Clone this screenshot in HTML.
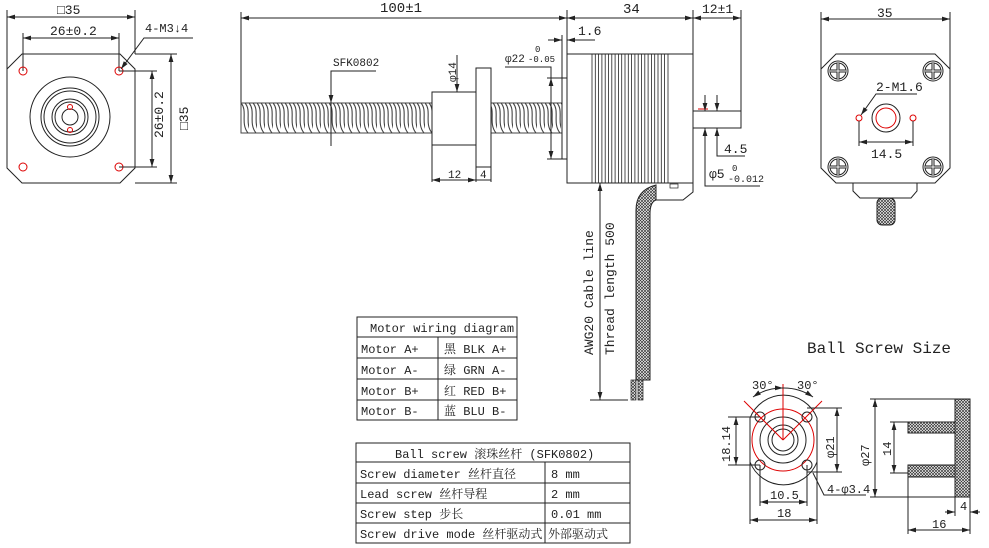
<!DOCTYPE html>
<html><head><meta charset="utf-8"><style>
html,body{margin:0;padding:0;background:#fff;}
svg{display:block;}
text{font-family:"Liberation Mono","Noto Serif CJK SC",monospace;fill:#222;}
</style></head><body>
<svg width="989" height="548" viewBox="0 0 989 548" xmlns="http://www.w3.org/2000/svg" font-size="12">
<defs>
<pattern id="h" width="3" height="3" patternUnits="userSpaceOnUse"><rect width="3" height="3" fill="#fff"/><path d="M0,0L3,3M3,0L0,3" stroke="#333" stroke-width="0.7"/></pattern>
<pattern id="thr" width="8" height="30" patternUnits="userSpaceOnUse" x="241" y="103"><rect width="8" height="30" fill="#fff"/><path d="M0,0 C7,8 -1,20 7,30 M4,0 C11,8 3,20 11,30" stroke="#444" fill="none" stroke-width="1.1"/></pattern>
<marker id="a" viewBox="0 0 10 6" refX="10" refY="3" markerWidth="8" markerHeight="5" orient="auto-start-reverse"><path d="M0,0L10,3L0,6z" fill="#222"/></marker>
</defs>
<g stroke="#222" stroke-width="1" fill="none">
<path d="M7,69 L22,54 L120,54 L135,69 L135,168 L120,183 L22,183 L7,168 Z"/>
<line x1="7" y1="10" x2="7" y2="69"/><line x1="135" y1="10" x2="135" y2="54"/>
<line x1="7" y1="17" x2="135" y2="17" marker-start="url(#a)" marker-end="url(#a)"/>
<line x1="23" y1="33" x2="23" y2="71"/><line x1="119" y1="33" x2="119" y2="71"/>
<line x1="23" y1="38" x2="119" y2="38" marker-start="url(#a)" marker-end="url(#a)"/>
<circle cx="70" cy="117" r="40"/><circle cx="70" cy="117" r="29"/><circle cx="70" cy="117" r="26"/><circle cx="70" cy="117" r="18"/><circle cx="70" cy="117" r="15"/><circle cx="70" cy="117" r="8"/>
<g stroke="#d00"><circle cx="23" cy="71" r="4"/><circle cx="119" cy="71" r="4"/><circle cx="23" cy="167" r="4"/><circle cx="119" cy="167" r="4"/><circle cx="70" cy="107" r="2.5"/><circle cx="70" cy="130" r="2.5"/></g>
<line x1="119" y1="71" x2="157" y2="71"/><line x1="119" y1="167" x2="157" y2="167"/>
<line x1="152" y1="71" x2="152" y2="167" marker-start="url(#a)" marker-end="url(#a)"/>
<line x1="135" y1="54" x2="177" y2="54"/><line x1="135" y1="183" x2="177" y2="183"/>
<line x1="171" y1="54" x2="171" y2="183" marker-start="url(#a)" marker-end="url(#a)"/>
<polyline points="193,38 144,38 121,69" marker-end="url(#a)"/>
<line x1="241" y1="12" x2="241" y2="103"/>
<line x1="241" y1="18" x2="567" y2="18" marker-start="url(#a)" marker-end="url(#a)"/>
<line x1="567" y1="10" x2="567" y2="54"/><line x1="693" y1="10" x2="693" y2="111"/><line x1="741" y1="10" x2="741" y2="111"/>
<line x1="567" y1="18" x2="693" y2="18" marker-start="url(#a)" marker-end="url(#a)"/>
<line x1="693" y1="18" x2="741" y2="18" marker-start="url(#a)" marker-end="url(#a)"/>
<rect x="241" y="103" width="191" height="30" fill="url(#thr)" stroke="#444"/>
<rect x="491" y="103" width="71" height="30" fill="url(#thr)" stroke="#444"/>
<rect x="432" y="92" width="44" height="53" fill="#fff"/>
<line x1="432" y1="145" x2="432" y2="182"/><line x1="476" y1="145" x2="476" y2="182"/>
<rect x="476" y="68" width="15" height="99" fill="#fff"/><line x1="491" y1="167" x2="491" y2="182"/>
<line x1="432" y1="180" x2="476" y2="180" marker-start="url(#a)" marker-end="url(#a)"/>
<line x1="476" y1="180" x2="491" y2="180"/>
<line x1="457" y1="55" x2="457" y2="92" marker-end="url(#a)"/>
<polyline points="376,71 331,71 331,146"/>
<line x1="331" y1="90" x2="331" y2="103" marker-end="url(#a)"/>
<polyline points="505,67 551,67 551,159"/>
<line x1="551" y1="78" x2="551" y2="159" marker-start="url(#a)" marker-end="url(#a)"/>
<line x1="547" y1="78" x2="567" y2="78"/><line x1="547" y1="159" x2="567" y2="159"/>
<line x1="562" y1="35" x2="562" y2="159"/>
<line x1="548" y1="40" x2="562" y2="40" marker-end="url(#a)"/><line x1="595" y1="40" x2="567" y2="40" marker-end="url(#a)"/>
<rect x="567" y="54" width="126" height="129"/>
<g stroke-width="0.8">
<path d="M592,54V183M595.3,54V183M598.6,54V183M601.9,54V183M605.2,54V183M608.5,54V183M611.8,54V183M615.1,54V183M618.4,54V183M621.7,54V183M625,54V183M628.3,54V183M631.6,54V183M634.9,54V183M638.2,54V183M641.5,54V183M644.8,54V183M648.1,54V183M651.4,54V183M654.7,54V183M658,54V183M661.3,54V183M664.6,54V183M668,54V183"/>
</g>
<rect x="693" y="111" width="48" height="17"/>
<line x1="698" y1="109" x2="708" y2="109" stroke="#d00"/>
<line x1="705" y1="95" x2="705" y2="111" marker-end="url(#a)"/><line x1="705" y1="145" x2="705" y2="128" marker-end="url(#a)"/>
<line x1="717" y1="95" x2="717" y2="111" marker-end="url(#a)"/><line x1="717" y1="145" x2="717" y2="128" marker-end="url(#a)"/>
<polyline points="705,128 705,186 760,186"/><polyline points="717,128 717,156 745,156"/>
<path d="M655,183 L693,183 L693,192 L683,200 L655,200"/>
<rect x="670" y="184" width="8" height="4" stroke-width="0.7"/>
<path d="M636,380 L636,210 Q636,190 656,185 L656,200 Q650,202 650,214 L650,380 Z" fill="url(#h)"/>
<rect x="631" y="380" width="5" height="20" fill="url(#h)" stroke-width="0.7"/>
<rect x="638" y="380" width="5" height="20" fill="url(#h)" stroke-width="0.7"/>
<line x1="600" y1="183" x2="600" y2="400" marker-start="url(#a)" marker-end="url(#a)"/>
<line x1="590" y1="400" x2="628" y2="400"/>
<path d="M821,69 L836,54 L935,54 L950,69 L950,168 L935,183 L836,183 L821,168 Z"/>
<line x1="821" y1="12" x2="821" y2="69"/><line x1="950" y1="12" x2="950" y2="69"/>
<line x1="821" y1="19" x2="950" y2="19" marker-start="url(#a)" marker-end="url(#a)"/>
<g>
<circle cx="838" cy="71" r="10"/><circle cx="838" cy="71" r="8"/><path d="M838,63V79M830,71H846" stroke-width="3"/><path d="M838,63V79M830,71H846" stroke="#fff" stroke-width="1"/>
<circle cx="933" cy="71" r="10"/><circle cx="933" cy="71" r="8"/><path d="M933,63V79M925,71H941" stroke-width="3"/><path d="M933,63V79M925,71H941" stroke="#fff" stroke-width="1"/>
<circle cx="838" cy="167" r="10"/><circle cx="838" cy="167" r="8"/><path d="M838,159V175M830,167H846" stroke-width="3"/><path d="M838,159V175M830,167H846" stroke="#fff" stroke-width="1"/>
<circle cx="933" cy="167" r="10"/><circle cx="933" cy="167" r="8"/><path d="M933,159V175M925,167H941" stroke-width="3"/><path d="M933,159V175M925,167H941" stroke="#fff" stroke-width="1"/>
</g>
<circle cx="886" cy="118" r="14"/><circle cx="886" cy="118" r="10" stroke="#d00"/>
<circle cx="859" cy="118" r="3" stroke="#d00"/><circle cx="913" cy="118" r="3" stroke="#d00"/>
<polyline points="917,94 876,94 861,115" marker-end="url(#a)"/>
<line x1="859" y1="121" x2="859" y2="146"/><line x1="913" y1="121" x2="913" y2="146"/>
<line x1="859" y1="142" x2="913" y2="142" marker-start="url(#a)" marker-end="url(#a)"/>
<path d="M853,183 L853,191 L860,198 L911,198 L917,191 L917,183"/>
<rect x="877" y="198" width="18" height="27" rx="5" fill="url(#h)"/>
<rect x="357" y="317" width="160" height="103"/>
<path d="M357,337H517M357,358H517M357,379H517M357,400H517M438,337V420"/>
<rect x="356" y="443" width="274" height="100"/>
<path d="M356,462H630M356,483H630M356,503H630M356,523H630M545,462V543"/>
<path d="M750,418 A36,36 0 0 1 817,418 L817,462 A36,36 0 0 1 750,462 Z"/>
<circle cx="783" cy="440" r="31" stroke="#d00"/>
<circle cx="783" cy="440" r="23"/><circle cx="783" cy="440" r="15"/><circle cx="783" cy="440" r="11"/>
<circle cx="760" cy="417" r="5"/><circle cx="807" cy="417" r="5"/><circle cx="760" cy="465" r="5"/><circle cx="807" cy="465" r="5"/>
<g stroke="#d00"><line x1="783" y1="384" x2="783" y2="440"/><line x1="783" y1="440" x2="744" y2="401"/><line x1="783" y1="440" x2="822" y2="401"/></g>
<path d="M753,397 A52,52 0 0 1 783,388" marker-start="url(#a)" marker-end="url(#a)"/>
<path d="M783,388 A52,52 0 0 1 813,397" marker-end="url(#a)"/>
<line x1="728" y1="417" x2="760" y2="417"/><line x1="728" y1="465" x2="760" y2="465"/>
<line x1="736" y1="417" x2="736" y2="465" marker-start="url(#a)" marker-end="url(#a)"/>
<line x1="807" y1="408" x2="842" y2="408"/><line x1="807" y1="472" x2="842" y2="472"/>
<line x1="837" y1="408" x2="837" y2="472" marker-start="url(#a)" marker-end="url(#a)"/>
<line x1="760" y1="465" x2="760" y2="506"/><line x1="807" y1="465" x2="807" y2="506"/>
<line x1="760" y1="502" x2="807" y2="502" marker-start="url(#a)" marker-end="url(#a)"/>
<line x1="750" y1="462" x2="750" y2="524"/><line x1="817" y1="462" x2="817" y2="524"/>
<line x1="750" y1="520" x2="817" y2="520" marker-start="url(#a)" marker-end="url(#a)"/>
<polyline points="866,495 824,495 813,473"/>
<rect x="955" y="399" width="15" height="98" fill="url(#h)"/>
<rect x="908" y="422" width="47" height="11" fill="url(#h)"/>
<rect x="908" y="465" width="47" height="12" fill="url(#h)"/>
<line x1="870" y1="399" x2="955" y2="399"/><line x1="870" y1="497" x2="955" y2="497"/>
<line x1="875" y1="399" x2="875" y2="497" marker-start="url(#a)" marker-end="url(#a)"/>
<line x1="890" y1="422" x2="908" y2="422"/><line x1="890" y1="473" x2="908" y2="473"/>
<line x1="894" y1="422" x2="894" y2="473" marker-start="url(#a)" marker-end="url(#a)"/>
<line x1="908" y1="477" x2="908" y2="534"/><line x1="970" y1="497" x2="970" y2="534"/>
<line x1="908" y1="530" x2="970" y2="530" marker-start="url(#a)" marker-end="url(#a)"/>
<line x1="955" y1="497" x2="955" y2="516"/>
<line x1="945" y1="512" x2="955" y2="512" marker-end="url(#a)"/><line x1="980" y1="512" x2="970" y2="512" marker-end="url(#a)"/>
</g>
<g>
<text x="57" y="14" font-size="13">□35</text>
<text x="50" y="35" font-size="13">26±0.2</text>
<text x="145" y="32" font-size="12">4-M3↓4</text>
<text transform="translate(163,138) rotate(-90)" font-size="13">26±0.2</text>
<text transform="translate(188,130) rotate(-90)" font-size="13">□35</text>
<text x="380" y="12" font-size="14">100±1</text>
<text x="333" y="66" font-size="11">SFK0802</text>
<text transform="translate(456,82) rotate(-90)" font-size="11">φ14</text>
<text x="505" y="62" font-size="11">φ22</text><text x="535" y="52" font-size="9">0</text><text x="528" y="62" font-size="9">-0.05</text>
<text x="448" y="178" font-size="11">12</text><text x="480" y="178" font-size="11">4</text>
<text x="578" y="35" font-size="13">1.6</text>
<text x="623" y="13" font-size="14">34</text>
<text x="702" y="13" font-size="13">12±1</text>
<text x="724" y="153" font-size="13">4.5</text>
<text x="709" y="178" font-size="13">φ5</text><text x="732" y="171" font-size="9">0</text><text x="728" y="182" font-size="10">-0.012</text>
<text transform="translate(593,355) rotate(-90)" font-size="13">AWG20 Cable line</text>
<text transform="translate(614,355) rotate(-90)" font-size="13">Thread length 500</text>
<text x="877" y="17" font-size="13">35</text>
<text x="876" y="91" font-size="13">2-M1.6</text>
<text x="871" y="158" font-size="13">14.5</text>
<text x="370" y="332" font-size="12">Motor wiring diagram</text>
<text x="361" y="353" font-size="12">Motor A+</text><text x="444" y="353" font-size="12">黑 BLK A+</text>
<text x="361" y="374" font-size="12">Motor A-</text><text x="444" y="374" font-size="12">绿 GRN A-</text>
<text x="361" y="395" font-size="12">Motor B+</text><text x="444" y="395" font-size="12">红 RED B+</text>
<text x="361" y="415" font-size="12">Motor B-</text><text x="444" y="415" font-size="12">蓝 BLU B-</text>
<text x="395" y="458" font-size="12">Ball screw  滚珠丝杆 (SFK0802)</text>
<text x="360" y="478" font-size="12">Screw diameter 丝杆直径</text><text x="551" y="478" font-size="12">8 mm</text>
<text x="360" y="498" font-size="12">Lead screw 丝杆导程</text><text x="551" y="498" font-size="12">2 mm</text>
<text x="360" y="518" font-size="12">Screw step 步长</text><text x="551" y="518" font-size="12">0.01 mm</text>
<text x="360" y="538" font-size="12">Screw drive mode 丝杆驱动式</text><text x="548" y="538" font-size="12">外部驱动式</text>
<text x="807" y="353" font-size="16">Ball Screw Size</text>
<text x="752" y="389" font-size="12">30°</text><text x="797" y="389" font-size="12">30°</text>
<text transform="translate(730,462) rotate(-90)" font-size="12">18.14</text>
<text transform="translate(834,458) rotate(-90)" font-size="12">φ21</text>
<text x="770" y="499" font-size="12">10.5</text>
<text x="777" y="517" font-size="12">18</text>
<text x="827" y="493" font-size="12">4-φ3.4</text>
<text transform="translate(869,466) rotate(-90)" font-size="12">φ27</text>
<text transform="translate(891,456) rotate(-90)" font-size="12">14</text>
<text x="960" y="510" font-size="12">4</text>
<text x="932" y="528" font-size="12">16</text>
</g>
</svg>
</body></html>
